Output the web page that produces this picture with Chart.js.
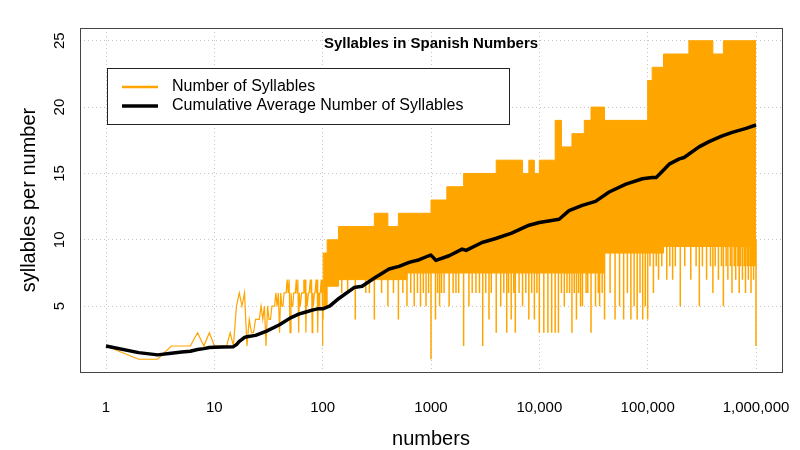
<!DOCTYPE html>
<html>
<head>
<meta charset="utf-8">
<script src="https://cdn.jsdelivr.net/npm/chart.js@4.4.1/dist/chart.umd.min.js"></script>
<style>
  html, body { margin: 0; padding: 0; background: #fff; }
</style>
</head>
<body>
<canvas id="syllableChart" width="800" height="450"></canvas>
<script>
// numbers 1..100 drawn one by one
const earlyN = Array.from({ length: 100 }, (_, i) => i + 1);
const earlyV = [
  2, 1, 1, 2, 2, 2, 3, 2, 3, 2,
  2, 2, 2, 3, 2, 5, 6, 5, 6, 2,
  4, 3, 3, 4, 4, 4, 5, 4, 5, 2,
  5, 4, 4, 5, 5, 5, 6, 5, 6, 3,
  6, 5, 5, 6, 6, 6, 7, 6, 7, 3,
  6, 5, 5, 6, 6, 6, 7, 6, 7, 3,
  6, 5, 5, 6, 6, 6, 7, 6, 7, 3,
  6, 5, 5, 6, 6, 6, 7, 6, 7, 3,
  6, 5, 5, 6, 6, 6, 7, 6, 7, 3,
  6, 5, 5, 6, 6, 6, 7, 6, 7, 2
];

// above 100 the line is too dense to follow: upper / lower edge of the orange band
const bandX = [101, 110, 140, 200, 300, 400, 500, 600, 1000, 1400,
  2000, 4000, 7000, 8000, 9000, 10000, 14000, 16000, 20000, 26000,
  30000, 40000, 100000, 110000, 140000, 240000, 400000, 500000, 600000, 1000000];
const bandTop = [6, 9, 10, 11, 11, 12, 11, 12, 12, 13,
  14, 15, 16, 15, 16, 15, 16, 19, 17, 18,
  19, 20, 19, 22, 23, 24, 25, 24, 25, 25];
const bandBot = [4, 5, 6.5, 7, 7, 7, 7, 7, 7.5, 7.5,
  7.5, 7.5, 7.5, 7.5, 7.5, 7.5, 7.5, 7.5, 7.5, 7.5,
  7.5, 7.5, 9, 9, 9, 9.5, 9.5, 9.5, 9.5, 9.5];

// dips below the band
const spikeX = [200, 300, 400, 500, 600, 700, 800, 900, 1000,
  150, 170, 250, 270, 350, 450, 550, 650, 750, 850, 950,
  1100, 1200, 1320, 1470, 2000, 2240, 2400, 3000, 3430, 4000, 4400, 5000, 5500, 6000, 7000, 8000, 9000,
  1150, 1250, 1600, 1700, 1800, 2600, 2800, 3200, 3600, 4700, 5200, 5800, 6500, 7500, 8500, 9500,
  10000, 11000, 12000, 13000, 14000, 15000, 17000, 20000, 22000, 25000, 30000, 33000, 36000,
  16000, 18000, 19000, 21000, 23000, 24000, 27000, 28000, 35000, 38000,
  40000, 50000, 60000, 70000, 80000, 90000, 100000,
  45000, 55000, 65000, 75000, 85000, 95000,
  113000, 126000, 150000, 170000, 200000, 250000, 300000, 350000, 400000, 450000, 500000, 550000,
  600000, 650000, 700000, 750000, 800000, 850000, 900000, 950000, 1000000,
  105000, 120000, 135000, 160000, 180000, 220000, 280000, 320000, 380000, 420000, 480000, 530000,
  580000, 630000, 680000, 720000, 780000, 830000, 880000, 920000, 980000];
const spikeLo = [4, 4, 5, 4, 5, 5, 5, 5, 1,
  6, 6, 6, 6, 6, 6, 6, 6, 6, 6, 6,
  4, 5, 6, 5, 2, 5, 6, 2, 4, 3, 5, 3, 4, 3, 5, 4, 4,
  6, 6, 6, 6, 6, 6, 6, 6, 6, 6, 6, 6, 6, 6, 6, 6,
  3, 3, 3, 3, 3, 3, 5, 3, 4, 5, 3, 5, 5,
  6, 6, 6, 6, 6, 5, 6, 6, 6, 6,
  4, 4, 4, 4, 4, 4, 4,
  6, 5, 6, 5, 6, 5,
  6, 7, 7, 7, 5, 7, 5, 7, 6, 7, 5, 7,
  6, 7, 6, 7, 6, 7, 6, 7, 2,
  8, 8, 8, 8, 8, 8, 8, 8, 8, 8, 8, 8,
  8, 8, 8, 8, 8, 8, 8, 8, 8];
const SPIKE_TOP = 10;

// cumulative average
const avgX = [1, 2, 3, 4, 5, 6, 7, 8, 9, 10, 12, 15, 16, 17, 18, 19, 20, 24, 30, 40,
  50, 60, 70, 80, 90, 100, 116, 142, 195, 231, 298, 410, 507, 628, 780, 955, 1000, 1110, 1470, 1940,
  2110, 2960, 3960, 5550, 8040, 10000, 15240, 18800, 24900, 33000, 44100, 63000, 89600, 110000, 120000, 158000,
  196000, 217000, 298000, 369000, 475000, 603000, 810000, 1000000];
const avgY = [2.0, 1.5, 1.33, 1.45, 1.55, 1.6, 1.73, 1.8, 1.88, 1.9, 1.92, 1.95, 2.1, 2.35, 2.5, 2.65, 2.7, 2.8, 3.1, 3.6,
  4.1, 4.4, 4.56, 4.7, 4.8, 4.8, 5.0, 5.6, 6.4, 6.5, 7.1, 7.8, 8.0, 8.3, 8.5, 8.8, 8.85, 8.45, 8.8, 9.3,
  9.2, 9.8, 10.1, 10.5, 11.1, 11.3, 11.55, 12.2, 12.6, 12.9, 13.6, 14.2, 14.6, 14.7, 14.7, 15.7,
  16.1, 16.2, 17.0, 17.4, 17.8, 18.1, 18.4, 18.65];

const xTicks = [1, 10, 100, 1000, 10000, 100000, 1000000];
const xTickLabels = ['1', '10', '100', '1000', '10,000', '100,000', '1,000,000'];
const yTicks = [5, 10, 15, 20, 25];

const FONT = '"Liberation Sans", Arial, Helvetica, sans-serif';
const ORANGE = '#ffa500';
const GRID = '#c4c4c4';

const pts = (xs, ys) => xs.map((x, i) => ({ x: x, y: ys[i] }));
const spikePts = [];
spikeX.forEach((x, i) => {
  spikePts.push({ x: x, y: SPIKE_TOP }, { x: x, y: spikeLo[i] }, { x: x, y: null });
});

// axis labels, box, title and legend
const decor = {
  id: 'decor',
  afterDraw(chart) {
    const c = chart.ctx;
    const a = chart.chartArea;
    const sx = chart.scales.x;
    const sy = chart.scales.y;
    c.save();
    c.strokeStyle = '#444';
    c.lineWidth = 1;
    c.strokeRect(Math.round(a.left) + 0.5, Math.round(a.top) + 0.5,
      Math.round(a.right - a.left), Math.round(a.bottom - a.top));

    c.fillStyle = '#000';
    c.font = 'bold 15px ' + FONT;
    c.textAlign = 'center';
    c.textBaseline = 'middle';
    c.fillText('Syllables in Spanish Numbers', (a.left + a.right) / 2, 44);

    // legend
    c.fillStyle = '#fff';
    c.fillRect(107.5, 68.5, 402, 56);
    c.strokeStyle = '#222';
    c.strokeRect(107.5, 68.5, 402, 56);
    c.lineCap = 'butt';
    c.strokeStyle = ORANGE;
    c.lineWidth = 2.5;
    c.beginPath(); c.moveTo(122, 87); c.lineTo(158, 87); c.stroke();
    c.strokeStyle = '#000';
    c.lineWidth = 3.5;
    c.beginPath(); c.moveTo(122, 106); c.lineTo(158, 106); c.stroke();
    c.fillStyle = '#000';
    c.font = '16px ' + FONT;
    c.textAlign = 'left';
    c.fillText('Number of Syllables', 172, 87);
    c.fillText('Cumulative Average Number of Syllables', 172, 106);

    // x tick labels
    c.font = '15px ' + FONT;
    c.textAlign = 'center';
    xTicks.forEach((v, i) => c.fillText(xTickLabels[i], sx.getPixelForValue(v), 408));

    // y tick labels, rotated like the reference
    c.textBaseline = 'alphabetic';
    yTicks.forEach(v => {
      c.save();
      c.translate(64, sy.getPixelForValue(v));
      c.rotate(-Math.PI / 2);
      c.fillText(String(v), 0, 0);
      c.restore();
    });

    c.font = '20px ' + FONT;
    c.textBaseline = 'middle';
    c.fillText('numbers', (a.left + a.right) / 2, 439);
    c.save();
    c.translate(35, (a.top + a.bottom) / 2);
    c.rotate(-Math.PI / 2);
    c.textBaseline = 'alphabetic';
    c.fillText('syllables per number', 0, 0);
    c.restore();
    c.restore();
  }
};

new Chart(document.getElementById('syllableChart').getContext('2d'), {
  type: 'line',
  data: {
    datasets: [
      { data: pts(avgX, avgY), borderColor: '#000', borderWidth: 3.5, borderJoinStyle: 'round', fill: false },
      { data: pts(earlyN, earlyV), borderColor: ORANGE, borderWidth: 1.2, fill: false },
      { data: spikePts, borderColor: ORANGE, borderWidth: 1.5, fill: false, spanGaps: false },
      { data: pts(bandX, bandTop), borderColor: ORANGE, borderWidth: 1, stepped: 'after',
        backgroundColor: ORANGE, fill: '+1' },
      { data: pts(bandX, bandBot), borderColor: ORANGE, borderWidth: 1, stepped: 'after', fill: false }
    ]
  },
  options: {
    responsive: false,
    animation: false,
    layout: { padding: { left: 80, right: 18, top: 28, bottom: 78 } },
    elements: { point: { radius: 0 }, line: { tension: 0 } },
    plugins: { legend: { display: false }, tooltip: { enabled: false } },
    scales: {
      x: {
        type: 'logarithmic',
        min: Math.pow(10, -0.24),
        max: Math.pow(10, 6.24),
        afterBuildTicks: s => { s.ticks = xTicks.map(v => ({ value: v })); },
        afterFit: s => { s.height = 0; },
        ticks: { display: false },
        grid: { color: GRID, lineWidth: 1, drawTicks: false },
        border: { display: false, dash: [1, 3] }
      },
      y: {
        type: 'linear',
        min: 0.04,
        max: 25.96,
        afterBuildTicks: s => { s.ticks = yTicks.map(v => ({ value: v })); },
        afterFit: s => { s.width = 0; },
        ticks: { display: false },
        grid: { color: GRID, lineWidth: 1, drawTicks: false },
        border: { display: false, dash: [1, 3] }
      }
    }
  },
  plugins: [decor]
});
</script>
</body>
</html>
